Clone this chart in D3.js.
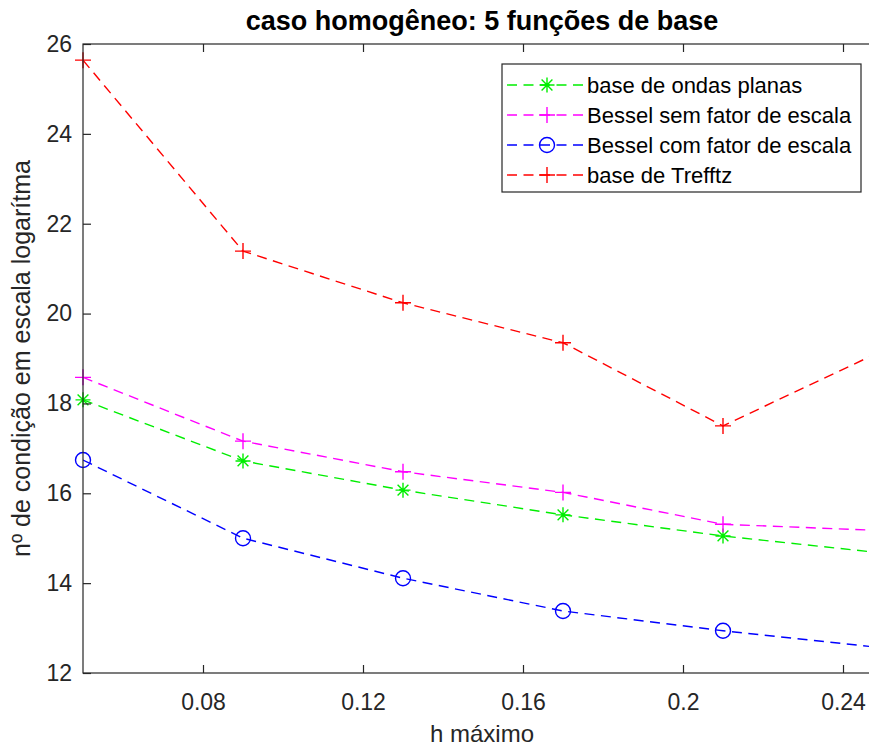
<!DOCTYPE html>
<html>
<head>
<meta charset="utf-8">
<script src="https://cdn.jsdelivr.net/npm/d3@7"></script>
<style>
  html, body { margin: 0; padding: 0; background: #fff; }
  svg { display: block; font-family: "Liberation Sans", Arial, Helvetica, sans-serif; }
</style>
</head>
<body>
<svg id="chart" width="869" height="749"></svg>
<script>
// h máximo values (mesh sizes)
const hMax = [0.05, 0.09, 0.13, 0.17, 0.21, 0.25];

// log condition numbers per basis
const ondasPlanas   = [18.08, 16.72, 16.07, 15.52, 15.05, 14.67];
const besselSemEsc  = [18.58, 17.16, 16.48, 16.02, 15.31, 15.17];
const besselComEsc  = [16.74, 15.00, 14.11, 13.38, 12.94, 12.56];
const trefftz       = [25.64, 21.39, 20.24, 19.35, 17.50, 19.18];

const seriesNames = [
  "base de ondas planas",
  "Bessel sem fator de escala",
  "Bessel com fator de escala",
  "base de Trefftz"
];

const xTickValues = [0.08, 0.12, 0.16, 0.2, 0.24];
const xTickLabels = ["0.08", "0.12", "0.16", "0.2", "0.24"];
const yTickValues = [12, 14, 16, 18, 20, 22, 24, 26];
const yTickLabels = ["12", "14", "16", "18", "20", "22", "24", "26"];

const titleText = "caso homogêneo: 5 funções de base";
const xLabelText = "h máximo";
const yLabelText = "nº de condição em escala logarítma";

// ---- layout ----
const plot = { left: 83, right: 883, top: 44, bottom: 673 };
const axisColor = "#262626";

const svg = d3.select("#chart");

const x = d3.scaleLinear().domain([0.05, 0.25]).range([plot.left, plot.right]);
const y = d3.scaleLinear().domain([12, 26]).range([plot.bottom, plot.top]);

const series = [
  { name: seriesNames[0], values: ondasPlanas,  color: "#00ee00", marker: "star" },
  { name: seriesNames[1], values: besselSemEsc, color: "#ff00ff", marker: "plus" },
  { name: seriesNames[2], values: besselComEsc, color: "#0000ff", marker: "circle" },
  { name: seriesNames[3], values: trefftz,      color: "#ff0000", marker: "plus" }
];

svg.append("defs").append("clipPath").attr("id", "plotClip")
  .append("rect")
  .attr("x", plot.left).attr("y", plot.top)
  .attr("width", plot.right - plot.left)
  .attr("height", plot.bottom - plot.top);

// ---- marker drawing ----
function drawMarker(g, type, cx, cy, color) {
  if (type === "plus") {
    const s = 8;
    g.append("path")
      .attr("d", `M${cx - s},${cy}H${cx + s}M${cx},${cy - s}V${cy + s}`)
      .attr("stroke", color).attr("stroke-width", 1.4).attr("fill", "none");
  } else if (type === "circle") {
    g.append("circle").attr("cx", cx).attr("cy", cy).attr("r", 7.5)
      .attr("stroke", color).attr("stroke-width", 1.4).attr("fill", "none");
  } else if (type === "star") {
    const s = 7.5, d = s * 0.72;
    g.append("path")
      .attr("d", `M${cx - s},${cy}H${cx + s}M${cx},${cy - s}V${cy + s}` +
                 `M${cx - d},${cy - d}L${cx + d},${cy + d}M${cx - d},${cy + d}L${cx + d},${cy - d}`)
      .attr("stroke", color).attr("stroke-width", 1.4).attr("fill", "none");
  }
}

// ---- data lines (clipped to the axes) and markers (drawn whole) ----
const line = d3.line().x((d, i) => x(hMax[i])).y(d => y(d));
const lineLayer = svg.append("g").attr("clip-path", "url(#plotClip)");
const markerLayer = svg.append("g");

series.forEach(s => {
  lineLayer.append("path")
    .datum(s.values)
    .attr("d", line)
    .attr("fill", "none")
    .attr("stroke", s.color)
    .attr("stroke-width", 1.4)
    .attr("stroke-dasharray", "10,6.5");
  s.values.forEach((v, i) => drawMarker(markerLayer, s.marker, x(hMax[i]), y(v), s.color));
});

// ---- axes (box with inward ticks) ----
const tickLen = 8;
const axes = svg.append("g");

axes.append("rect")
  .attr("x", plot.left).attr("y", plot.top)
  .attr("width", plot.right - plot.left).attr("height", plot.bottom - plot.top)
  .attr("fill", "none").attr("stroke", axisColor).attr("stroke-width", 1.2);

const xAxisBottom = d3.axisBottom(x).tickValues(xTickValues)
  .tickSizeInner(-tickLen).tickSizeOuter(0)
  .tickFormat((d, i) => xTickLabels[i]);
const gxb = axes.append("g").attr("transform", `translate(0,${plot.bottom})`).call(xAxisBottom);

const xAxisTop = d3.axisTop(x).tickValues(xTickValues)
  .tickSizeInner(-tickLen).tickSizeOuter(0).tickFormat("");
const gxt = axes.append("g").attr("transform", `translate(0,${plot.top})`).call(xAxisTop);

const yAxisLeft = d3.axisLeft(y).tickValues(yTickValues)
  .tickSizeInner(-tickLen).tickSizeOuter(0)
  .tickFormat((d, i) => yTickLabels[i]).tickPadding(11);
const gyl = axes.append("g").attr("transform", `translate(${plot.left},0)`).call(yAxisLeft);

const yAxisRight = d3.axisRight(y).tickValues(yTickValues)
  .tickSizeInner(-tickLen).tickSizeOuter(0).tickFormat("");
const gyr = axes.append("g").attr("transform", `translate(${plot.right},0)`).call(yAxisRight);

[gxb, gxt, gyl, gyr].forEach(g => {
  g.select(".domain").remove();
  g.selectAll(".tick line").attr("stroke", axisColor).attr("stroke-width", 1.2);
  g.selectAll(".tick text")
    .attr("fill", axisColor)
    .style("font-family", "'Liberation Sans', Arial, sans-serif")
    .style("font-size", "23px");
});
gxb.selectAll(".tick text").attr("dy", "0.71em").attr("y", 21);

// ---- titles ----
svg.append("text")
  .attr("x", 482).attr("y", 30)
  .attr("text-anchor", "middle")
  .attr("fill", "#000")
  .style("font-size", "27px").style("font-weight", "bold")
  .text(titleText);

svg.append("text")
  .attr("x", (plot.left + plot.right) / 2 - 1).attr("y", 742)
  .attr("text-anchor", "middle")
  .attr("fill", axisColor)
  .style("font-size", "24px")
  .text(xLabelText);

svg.append("text")
  .attr("transform", `translate(30,${(plot.top + plot.bottom) / 2}) rotate(-90)`)
  .attr("text-anchor", "middle")
  .attr("fill", axisColor)
  .style("font-size", "25px")
  .text(yLabelText);

// ---- legend ----
const legend = svg.append("g");
const lg = { x: 502, y: 64, w: 359, h: 128, rowY0: 85, rowStep: 30 };
legend.append("rect")
  .attr("x", lg.x).attr("y", lg.y).attr("width", lg.w).attr("height", lg.h)
  .attr("fill", "#fff").attr("stroke", axisColor).attr("stroke-width", 1.2);

series.forEach((s, i) => {
  const ry = lg.rowY0 + i * lg.rowStep;
  legend.append("line")
    .attr("x1", 507).attr("x2", 583).attr("y1", ry).attr("y2", ry)
    .attr("stroke", s.color).attr("stroke-width", 1.4)
    .attr("stroke-dasharray", "10,6.5");
  drawMarker(legend, s.marker, 547, ry, s.color);
  legend.append("text")
    .attr("x", 587).attr("y", ry).attr("dy", "0.35em")
    .attr("fill", "#000")
    .style("font-size", "22px")
    .text(s.name);
});
</script>
</body>
</html>
